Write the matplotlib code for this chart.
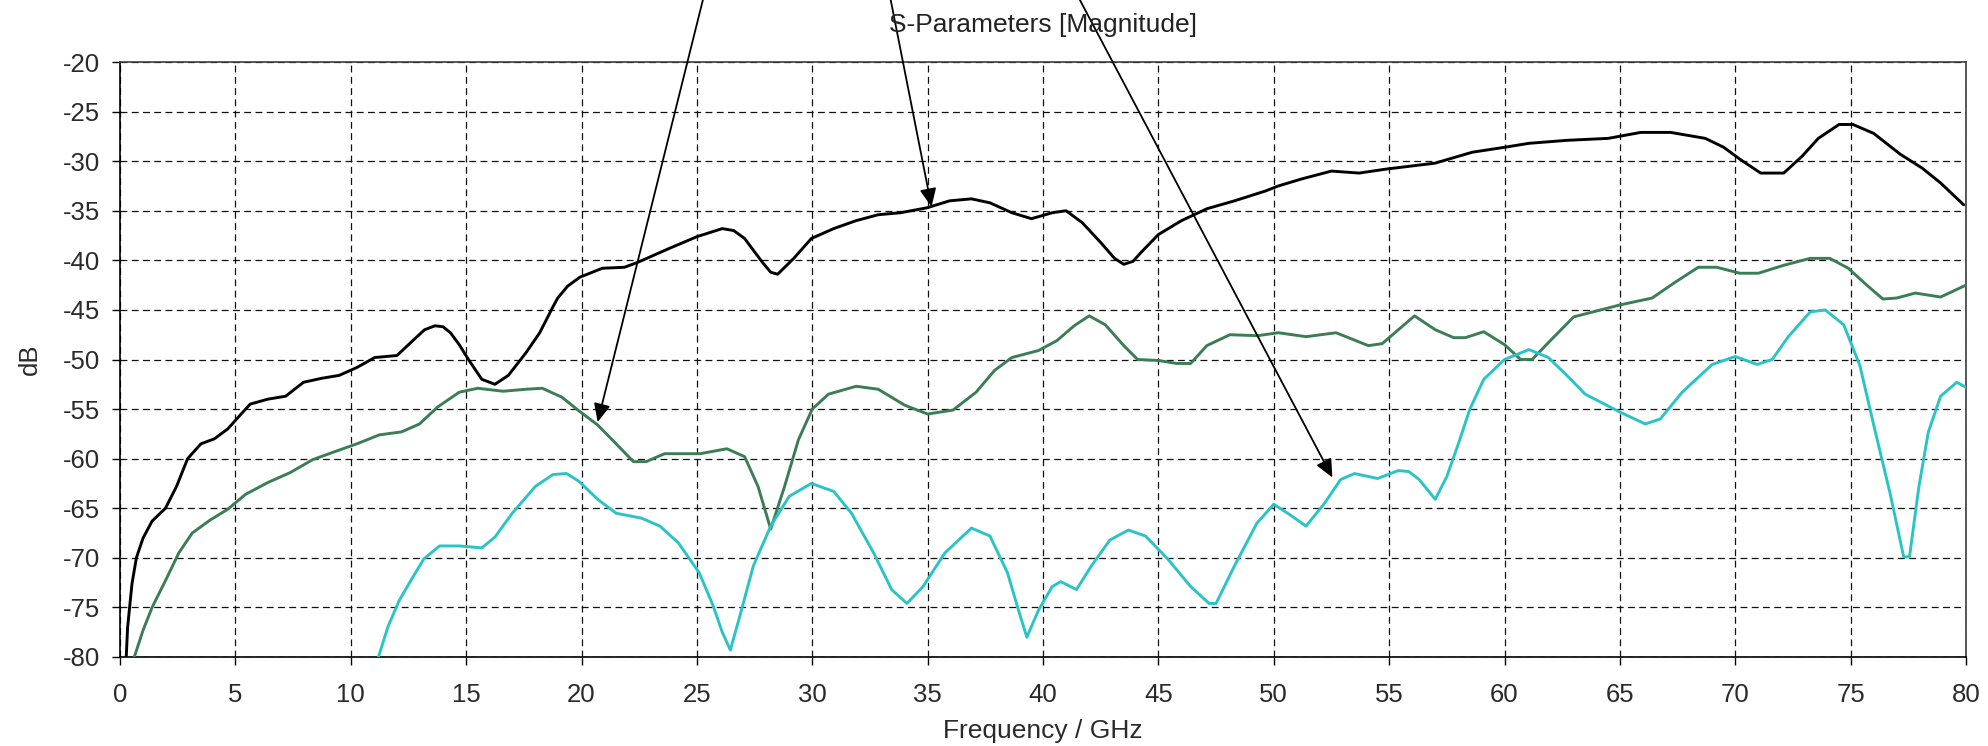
import matplotlib
matplotlib.use("Agg")
import matplotlib.pyplot as plt

plt.rcParams['font.family'] = ['Liberation Sans', 'DejaVu Sans']
plt.rcParams['axes.unicode_minus'] = False

# S-parameter traces: frequency (GHz) and magnitude (dB)
f_black = [0.27, 0.33, 0.52, 0.71, 1.0, 1.39, 1.97, 2.45, 2.93, 3.51, 4.09, 4.67, 5.25, 5.64,
           6.41, 7.18, 7.95, 8.73, 9.5, 10.27, 11.04, 12.0, 12.78, 13.2, 13.65, 14.0, 14.32,
           14.7, 15.1, 15.68, 16.25, 16.83, 17.6, 18.19, 18.76, 18.97, 19.4, 19.93, 20.9,
           21.86, 22.44, 23.8, 25.02, 26.1, 26.6, 27.07, 27.84, 28.2, 28.5, 29.2, 29.96, 30.93,
           31.9, 32.86, 33.82, 34.98, 35.95, 36.9, 37.7, 38.65, 39.5, 40.4, 41.0, 41.7, 42.5,
           43.1, 43.5, 43.9, 44.25, 45.0, 46.0, 47.1, 48.3, 49.65, 50.2, 51.2, 52.5, 53.7, 54.87,
           56.99, 58.6, 60.0, 61.06, 62.7, 64.5, 65.9, 67.2, 68.7, 69.5, 70.2, 71.1, 72.1, 72.9,
           73.6, 74.5, 75.1, 76.0, 77.15, 78.1, 78.9, 79.9]
db_black = [-80, -77, -72.6, -70, -68, -66.3, -65, -62.8, -60, -58.5, -58, -57, -55.5, -54.5,
            -54, -53.7, -52.3, -51.9, -51.6, -50.8, -49.8, -49.6, -47.9, -47.0, -46.6, -46.7,
            -47.3, -48.5, -50, -52, -52.5, -51.6, -49.3, -47.3, -44.7, -43.8, -42.6, -41.7,
            -40.8, -40.7, -40.2, -38.8, -37.6, -36.8, -37.0, -37.8, -40.2, -41.2, -41.4, -39.8,
            -37.8, -36.8, -36, -35.4, -35.2, -34.7, -34, -33.8, -34.2, -35.2, -35.8, -35.2, -35,
            -36.2, -38.2, -39.8, -40.4, -40.1, -39.2, -37.4, -36, -34.8, -34, -33, -32.5, -31.8,
            -31, -31.2, -30.8, -30.2, -29.1, -28.6, -28.2, -27.9, -27.7, -27.1, -27.1, -27.7,
            -28.6, -29.8, -31.2, -31.2, -29.5, -27.7, -26.3, -26.3, -27.2, -29.3, -30.7, -32.2,
            -34.4]

f_green = [0.62, 1.0, 1.39, 1.97, 2.55, 3.13, 3.9, 4.67, 5.44, 6.41, 7.38, 8.35, 9.3, 10.27,
           11.24, 12.2, 12.98, 13.76, 14.7, 15.5, 16.6, 17.6, 18.3, 19.15, 19.9, 20.7, 21.5,
           22.25, 22.8, 23.6, 24.57, 25.14, 26.3, 27.07, 27.65, 28.2, 28.8, 29.4, 30.0, 30.7,
           31.9, 32.86, 34.0, 35.0, 36.1, 37.1, 37.9, 38.65, 39.8, 40.6, 41.35, 42.0, 42.7,
           43.5, 44.1, 45.0, 45.8, 46.4, 47.1, 48.1, 49.3, 50.2, 51.4, 52.7, 54.1, 54.7, 55.4,
           56.1, 57.0, 57.8, 58.3, 59.1, 60.0, 60.7, 61.2, 61.9, 63.0, 65.0, 66.4, 67.4, 68.4,
           69.2, 70.2, 71.0, 72.1, 73.25, 74.1, 74.9, 75.7, 76.4, 77.0, 77.8, 78.9, 80.0]
db_green = [-80, -77.3, -75, -72.3, -69.5, -67.5, -66.2, -65.1, -63.6, -62.4, -61.4, -60.1,
            -59.3, -58.5, -57.6, -57.3, -56.5, -54.8, -53.3, -52.9, -53.2, -53, -52.9, -53.8,
            -55.2, -56.6, -58.5, -60.3, -60.3, -59.5, -59.5, -59.5, -59, -59.8, -62.8, -67.1,
            -62.8, -58.1, -55, -53.5, -52.7, -53, -54.6, -55.5, -55.1, -53.3, -51.1, -49.8,
            -49.1, -48.1, -46.6, -45.6, -46.5, -48.6, -50, -50.1, -50.4, -50.4, -48.6, -47.5,
            -47.6, -47.3, -47.7, -47.3, -48.6, -48.4, -47, -45.6, -47, -47.8, -47.8, -47.2,
            -48.5, -50, -50, -48.3, -45.7, -44.5, -43.8, -42.2, -40.7, -40.7, -41.3, -41.3,
            -40.5, -39.8, -39.8, -40.8, -42.5, -43.9, -43.8, -43.3, -43.7, -42.5]

f_cyan = [11.2, 11.62, 12.1, 12.6, 13.17, 13.85, 14.7, 15.68, 16.25, 17.0, 18.0, 18.76, 19.35,
          19.9, 20.7, 21.5, 22.6, 23.4, 24.2, 25.1, 25.7, 26.1, 26.45, 26.87, 27.45, 28.2, 29.0,
          29.96, 30.93, 31.7, 32.66, 33.44, 34.1, 34.8, 35.75, 36.9, 37.7, 38.46, 38.94, 39.3,
          39.8, 40.4, 40.77, 41.45, 42.1, 42.9, 43.7, 44.44, 45.4, 46.4, 47.2, 47.5, 48.3,
          49.27, 50.0, 50.6, 51.4, 52.2, 52.9, 53.5, 54.5, 55.4, 55.85, 56.3, 57.0, 57.5, 58.0,
          58.5, 59.1, 60.0, 61.06, 61.9, 62.7, 63.5, 65.0, 66.1, 66.75, 67.7, 69.0, 70.0,
          70.95, 71.6, 72.3, 73.25, 73.9, 74.7, 75.4, 76.0, 76.7, 77.3, 77.55, 77.96, 78.37,
          78.9, 79.6, 80.0]
db_cyan = [-80, -76.9, -74.3, -72.3, -70.1, -68.8, -68.8, -69, -67.9, -65.5, -62.8, -61.6,
           -61.5, -62.3, -64.1, -65.5, -66, -66.8, -68.5, -71.5, -74.8, -77.5, -79.3, -75.8,
           -70.8, -66.8, -63.8, -62.5, -63.3, -65.5, -69.5, -73.2, -74.6, -72.9, -69.5, -67,
           -67.8, -71.5, -75.3, -78, -75.3, -72.9, -72.4, -73.2, -70.8, -68.2, -67.2, -67.8,
           -70.1, -72.9, -74.6, -74.6, -70.8, -66.5, -64.6, -65.5, -66.8, -64.5, -62.1, -61.5,
           -62, -61.2, -61.3, -62.1, -64.1, -61.8, -58.5, -55, -52, -50, -49, -49.8, -51.6,
           -53.5, -55.3, -56.5, -56, -53.3, -50.5, -49.7, -50.5, -50, -47.7, -45.2, -45, -46.5,
           -50.6, -56.6, -63.4, -69.9, -69.9, -62.8, -57.3, -53.7, -52.3, -52.8]

x_ticks = list(range(0, 81, 5))
y_ticks = list(range(-80, -19, 5))

# annotation arrows: (tail freq, tail dB) -> (head freq, head dB)
arrow_tails = [(25.26, -13.75), (33.4, -13.75), (41.6, -13.75)]
arrow_heads = [(20.7, -56.3), (35.17, -34.6), (52.54, -61.9)]

W, H = 1988, 746
fig = plt.figure(figsize=(W / 100, H / 100), dpi=100)
ax = fig.add_axes([120 / W, (H - 657) / H, (1966 - 120) / W, (657 - 62) / H])

line_style = dict(lw=2.1, solid_joinstyle='round', solid_capstyle='round')
ax.plot(f_black, db_black, color='#000000', zorder=4, **line_style)
ax.plot(f_green, db_green, color='#3b7d54', zorder=3, **line_style)
ax.plot(f_cyan, db_cyan, color='#2bc4c4', zorder=3, **line_style)

ax.set_xlim(0, 80)
ax.set_ylim(-80, -20)
ax.set_xticks(x_ticks)
ax.set_yticks(y_ticks)
ax.tick_params(axis='both', direction='out', length=6, width=1.0, color='black',
               labelsize=18.5, labelcolor='#2a2a2a')
ax.tick_params(axis='x', pad=12.5)
ax.tick_params(axis='y', pad=8.5)

ax.grid(True, color='#111111', linestyle=(0, (5.5, 3.5)), linewidth=0.9)
ax.set_axisbelow(True)

for side in ('left', 'bottom'):
    ax.spines[side].set_color('black')
    ax.spines[side].set_linewidth(1.2)
for side in ('top', 'right'):
    ax.spines[side].set_color('#3c3c3c')
    ax.spines[side].set_linewidth(1.2)

fig.text(1043 / W, 1 - 25 / H, 'S-Parameters [Magnitude]', ha='center', va='center',
         fontsize=19, color='#222222')
fig.text(1043 / W, 1 - 731 / H, 'Frequency / GHz', ha='center', va='center',
         fontsize=19, color='#2a2a2a')
fig.text(30 / W, 1 - 359 / H, 'dB', ha='center', va='center', rotation=90,
         fontsize=18.5, color='#2a2a2a')

for tail, head in zip(arrow_tails, arrow_heads):
    ax.annotate('', xy=head, xytext=tail, xycoords='data', textcoords='data',
                annotation_clip=False,
                arrowprops=dict(arrowstyle='-|>,head_length=0.55,head_width=0.25',
                                color='black', lw=1.3, mutation_scale=20,
                                shrinkA=0, shrinkB=0),
                zorder=6)

fig.savefig('out.png', dpi=100, facecolor='white')
